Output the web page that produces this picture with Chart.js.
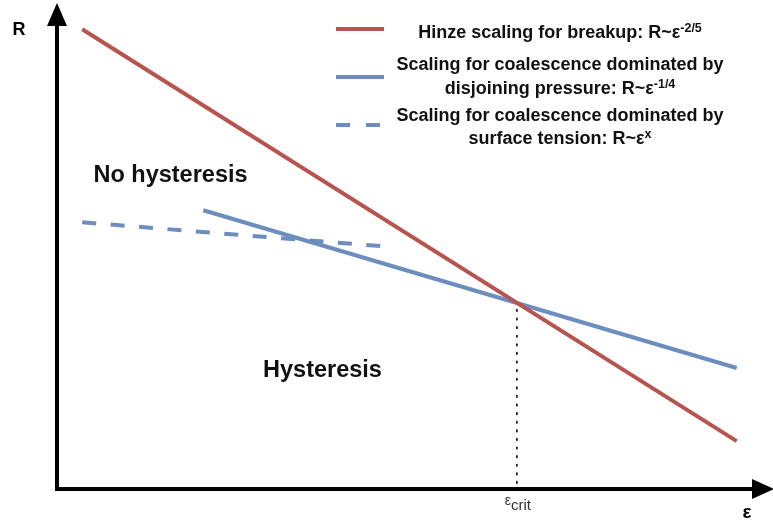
<!DOCTYPE html>
<html>
<head>
<meta charset="utf-8">
<script src="https://cdn.jsdelivr.net/npm/chart.js@4/dist/chart.umd.min.js"></script>
<style>
  html, body { margin: 0; padding: 0; background: #fff; }
  #wrap { width: 773px; height: 524px; position: relative; }
</style>
</head>
<body>
<div id="wrap"><canvas id="c"></canvas></div>
<script>
// Schematic scaling lines, in arbitrary units (x: ε, y: R), both 0..100
const breakupX = [3.6, 97.1];
const breakupY = [95.0, 9.9];
const disjoiningX = [20.9, 97.1];
const disjoiningY = [57.6, 25.0];
const tensionX = [3.6, 46.9];
const tensionY = [55.1, 50.1];
const critX = 65.7;
const critY = 38.3;

const seriesNames = [
  ['Hinze scaling for breakup: R~ε', '-2/5'],
  ['Scaling for coalescence dominated by', 'disjoining pressure: R~ε', '-1/4'],
  ['Scaling for coalescence dominated by', 'surface tension: R~ε', 'x']
];

const RED = '#b85450';
const BLUE = '#6c8ebf';
const FONT = '"Liberation Sans", Arial, sans-serif';

const pts = (xs, ys) => xs.map((x, i) => ({ x, y: ys[i] }));

// Axes with arrow heads, annotations and legend
const decor = {
  id: 'decor',
  afterDatasetsDraw(chart) {
    const { ctx, chartArea: a, scales: { x, y } } = chart;
    ctx.save();
    // dotted drop line at the crossing point
    const cx = x.getPixelForValue(critX), cy = y.getPixelForValue(critY);
    ctx.strokeStyle = '#000';
    ctx.lineWidth = 1.6;
    ctx.setLineDash([1.6, 7]);
    ctx.lineCap = 'round';
    ctx.beginPath(); ctx.moveTo(cx, cy + 6); ctx.lineTo(cx, a.bottom); ctx.stroke();
    ctx.setLineDash([]);
    ctx.lineCap = 'butt';

    // axes
    const ox = a.left, oy = a.bottom;
    ctx.lineWidth = 4;
    ctx.lineJoin = 'miter';
    ctx.beginPath();
    ctx.moveTo(ox, 24); ctx.lineTo(ox, oy); ctx.lineTo(756, oy);
    ctx.stroke();
    ctx.fillStyle = '#000';
    ctx.beginPath(); ctx.moveTo(ox, 3); ctx.lineTo(ox - 10, 26); ctx.lineTo(ox + 10, 26); ctx.closePath(); ctx.fill();
    ctx.beginPath(); ctx.moveTo(774, oy); ctx.lineTo(752, oy - 10); ctx.lineTo(752, oy + 10); ctx.closePath(); ctx.fill();

    // axis titles
    ctx.textBaseline = 'alphabetic';
    ctx.textAlign = 'center';
    ctx.font = 'bold 18px ' + FONT;
    ctx.fillText('R', 19, 35);
    ctx.font = 'bold 19px ' + FONT;
    ctx.fillText('ε', 747, 518);

    // ε_crit tick label
    ctx.fillStyle = '#333';
    ctx.font = '14px ' + FONT;
    ctx.textAlign = 'left';
    const w1 = ctx.measureText('ε').width;
    ctx.font = '15px ' + FONT;
    const w2 = ctx.measureText('crit').width;
    let sx = cx - (w1 + w2) / 2 + 1;
    ctx.font = '14px ' + FONT;
    ctx.fillText('ε', sx, 505);
    ctx.font = '15px ' + FONT;
    ctx.fillText('crit', sx + w1, 510);

    // region labels
    ctx.fillStyle = '#111';
    ctx.textAlign = 'center';
    ctx.font = 'bold 23.5px ' + FONT;
    ctx.fillText('No hysteresis', 170.5, 182);
    ctx.fillText('Hysteresis', 322.5, 377);

    // legend
    const items = [
      { color: RED, dash: [], y: 29, lines: [[seriesNames[0][0], seriesNames[0][1], 38]] },
      { color: BLUE, dash: [], y: 77, lines: [[seriesNames[1][0], '', 70], [seriesNames[1][1], seriesNames[1][2], 94]] },
      { color: BLUE, dash: [14, 16], y: 125, lines: [[seriesNames[2][0], '', 121], [seriesNames[2][1], seriesNames[2][2], 144]] }
    ];
    const tx = 560;
    items.forEach(it => {
      ctx.strokeStyle = it.color;
      ctx.lineWidth = 4;
      ctx.setLineDash(it.dash);
      ctx.beginPath(); ctx.moveTo(336, it.y); ctx.lineTo(384, it.y); ctx.stroke();
      ctx.setLineDash([]);
      ctx.fillStyle = '#111';
      it.lines.forEach(([main, sup, ly]) => {
        ctx.font = 'bold 18px ' + FONT;
        const mw = ctx.measureText(main).width;
        ctx.font = 'bold 12.5px ' + FONT;
        const sw = sup ? ctx.measureText(sup).width : 0;
        let lx = tx - (mw + sw) / 2;
        ctx.textAlign = 'left';
        ctx.font = 'bold 18px ' + FONT;
        ctx.fillText(main, lx, ly);
        if (sup) {
          ctx.font = 'bold 12.5px ' + FONT;
          ctx.fillText(sup, lx + mw, ly - 6);
        }
      });
    });
    ctx.restore();
  }
};

new Chart(document.getElementById('c'), {
  type: 'scatter',
  data: {
    datasets: [
      { label: seriesNames[0].join(''), data: pts(breakupX, breakupY), showLine: true,
        borderColor: RED, borderWidth: 4, pointRadius: 0, borderCapStyle: 'butt' },
      { label: seriesNames[1].join(''), data: pts(disjoiningX, disjoiningY), showLine: true,
        borderColor: BLUE, borderWidth: 4, pointRadius: 0, borderCapStyle: 'butt' },
      { label: seriesNames[2].join(''), data: pts(tensionX, tensionY), showLine: true,
        borderColor: BLUE, borderWidth: 4, borderDash: [14, 14.5], pointRadius: 0, borderCapStyle: 'butt' }
    ]
  },
  options: {
    responsive: true,
    maintainAspectRatio: false,
    animation: false,
    layout: { padding: { left: 57, right: 16, top: 5, bottom: 35 } },
    scales: {
      x: { type: 'linear', min: 0, max: 100, display: false },
      y: { type: 'linear', min: 0, max: 100, display: false }
    },
    plugins: { legend: { display: false }, tooltip: { enabled: false } }
  },
  plugins: [decor]
});
</script>
</body>
</html>
